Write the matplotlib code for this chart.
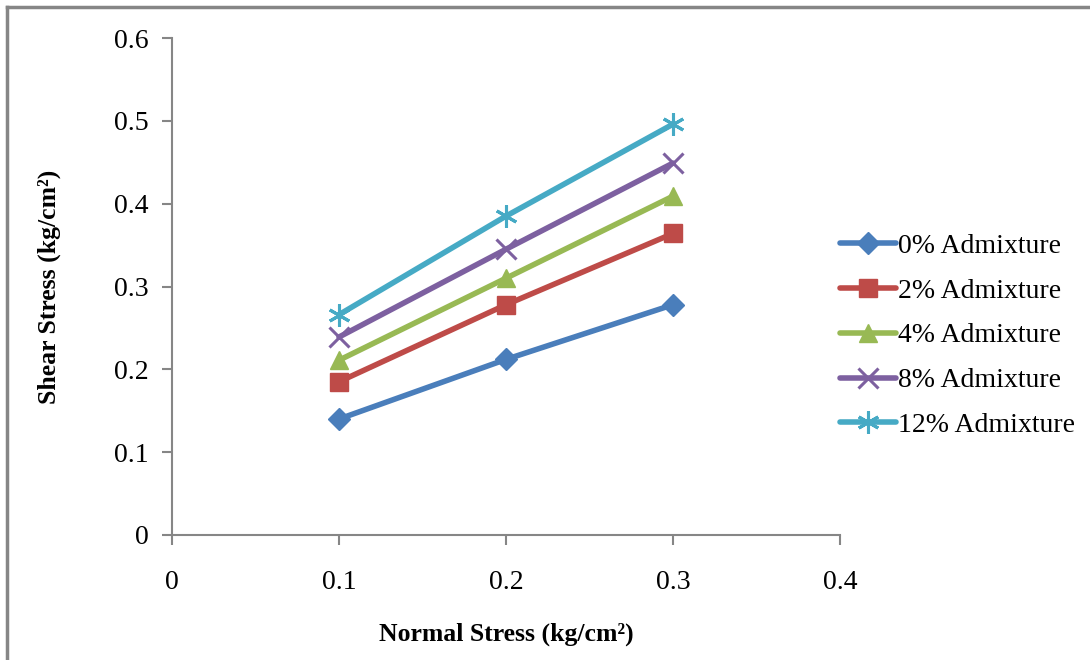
import matplotlib.pyplot as plt
from matplotlib.lines import Line2D

plt.rcParams['font.family'] = ['Liberation Serif', 'DejaVu Serif']

normal_stress = [0.1, 0.2, 0.3]
shear_0 = [0.140, 0.212, 0.278]
shear_2 = [0.185, 0.278, 0.364]
shear_4 = [0.211, 0.310, 0.409]
shear_8 = [0.239, 0.345, 0.449]
shear_12 = [0.266, 0.385, 0.496]

labels = ['0% Admixture', '2% Admixture', '4% Admixture', '8% Admixture', '12% Admixture']
colors = ['#4A7EBB', '#BE4B48', '#98B954', '#7D60A0', '#46AAC5']
markers = ['D', 's', '^', 'x', (6, 2, 0)]
msizes = [11, 13, 13, 14, 16]

fig = plt.figure(figsize=(10.9, 6.6), dpi=100)
ax = fig.add_axes([0.1578, 0.1894, 0.6128, 0.753])

series = [shear_0, shear_2, shear_4, shear_8, shear_12]
for y, lab, c, m, ms in zip(series, labels, colors, markers, msizes):
    ax.plot(normal_stress, y, color=c, lw=4, marker=m, markersize=ms,
            markeredgewidth=2.2 if m in ('x',) or isinstance(m, tuple) else 1,
            markeredgecolor=c, label=lab, solid_capstyle='round')

ax.set_xlim(0, 0.4)
ax.set_ylim(0, 0.6)
ax.set_xticks([0, 0.1, 0.2, 0.3, 0.4])
ax.set_xticklabels(['0', '0.1', '0.2', '0.3', '0.4'])
ax.set_yticks([0, 0.1, 0.2, 0.3, 0.4, 0.5, 0.6])
ax.set_yticklabels(['0', '0.1', '0.2', '0.3', '0.4', '0.5', '0.6'])

for s in ['top', 'right']:
    ax.spines[s].set_visible(False)
for s in ['left', 'bottom']:
    ax.spines[s].set_color('#868686')
    ax.spines[s].set_linewidth(1.5)
ax.tick_params(axis='y', direction='out', length=7, width=1.5, color='#868686',
               labelsize=20, pad=10)
ax.tick_params(axis='x', direction='out', length=7, width=1.5, color='#868686',
               labelsize=20, pad=18)

ax.set_xlabel('Normal Stress (kg/cm²)', fontsize=18.5, fontweight='bold', labelpad=20)
ax.set_ylabel('Shear Stress (kg/cm²)', fontsize=18.5, fontweight='bold', labelpad=38)

leg = ax.legend(loc='center left', bbox_to_anchor=(1.0, 0.401), frameon=False,
                fontsize=20, handlelength=2.0, handletextpad=0.1, labelspacing=0.7,
                borderaxespad=0, borderpad=0)

# outer chart border (top and left edges visible)
fig.add_artist(Line2D([0.0064, 1.0], [0.9894, 0.9894], color='#868686', lw=2.5,
                      transform=fig.transFigure))
fig.add_artist(Line2D([0.0064, 0.0064], [0.0, 0.9894], color='#868686', lw=2.5,
                      transform=fig.transFigure))

fig.savefig('out.png', dpi=100)
